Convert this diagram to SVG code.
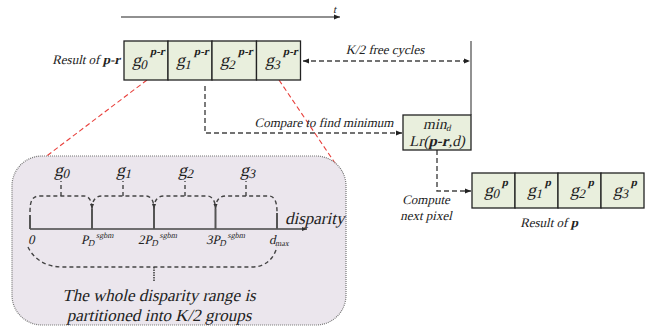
<svg xmlns="http://www.w3.org/2000/svg" width="667" height="327" viewBox="0 0 667 327">
<defs>
<marker id="ah" viewBox="0 0 10 10" refX="10" refY="5" markerWidth="6" markerHeight="6" orient="auto-start-reverse" markerUnits="userSpaceOnUse"><path d="M0,1 L10,5 L0,9 Z" fill="#222"/></marker>
<marker id="ahs" viewBox="0 0 10 10" refX="10" refY="5" markerWidth="5" markerHeight="5" orient="auto" markerUnits="userSpaceOnUse"><path d="M0,1 L10,5 L0,9 Z" fill="#333"/></marker>
</defs>
<style>
text{font-family:"Liberation Serif","Times New Roman",serif;fill:#222}
.cell{fill:#e9efdd;stroke:#222;stroke-width:1.3}
.dash{fill:none;stroke:#444;stroke-width:1.4;stroke-dasharray:5,3}
.bd{fill:none;stroke:#444;stroke-width:1.4;stroke-dasharray:4,3}
.red{fill:none;stroke:#e8403c;stroke-width:1.1;stroke-dasharray:5,3}
.tick{stroke:#555;stroke-width:2}
.g{font-size:18px}
.sub{font-size:13px}
.sup{font-size:11px;font-weight:bold}
.lbl{font-size:13px}
</style>
<rect width="667" height="327" fill="#fff"/>

<g id="time-axis">
<line x1="121" y1="17" x2="340" y2="17" stroke="#222" stroke-width="1.2" marker-end="url(#ah)"/>
<text transform="translate(333,13) skewX(-13)" font-size="11">t</text>
</g>

<g id="connectors">
<line x1="471" y1="41" x2="471" y2="115" stroke="#777" stroke-width="1.6"/>
<line x1="303" y1="61" x2="470" y2="61" class="dash" marker-start="url(#ah)" marker-end="url(#ah)"/>
<path d="M205,86 L205,133 L402,133" class="dash" marker-end="url(#ah)"/>
<path d="M437,150 L437,191 L471,191" class="dash" marker-end="url(#ah)"/>
<line x1="147" y1="80" x2="44" y2="158" class="red"/>
<line x1="279" y1="80" x2="337" y2="166" class="red"/>
</g>

<g id="result-pr">
<text transform="translate(120,64) skewX(-13)" class="lbl" text-anchor="end">Result of <tspan font-weight="bold">p-r</tspan></text>
<rect x="124" y="41" width="44" height="39" class="cell"/>
<rect x="168" y="41" width="44" height="39" class="cell"/>
<rect x="212" y="41" width="44.5" height="39" class="cell"/>
<rect x="256.5" y="41" width="44" height="39" class="cell"/>
<text transform="translate(132,66) skewX(-13)"><tspan class="g">g</tspan><tspan class="sub" dy="3">0</tspan><tspan class="sup" dy="-14">p-r</tspan></text>
<text transform="translate(176,66) skewX(-13)"><tspan class="g">g</tspan><tspan class="sub" dy="3">1</tspan><tspan class="sup" dy="-14">p-r</tspan></text>
<text transform="translate(220,66) skewX(-13)"><tspan class="g">g</tspan><tspan class="sub" dy="3">2</tspan><tspan class="sup" dy="-14">p-r</tspan></text>
<text transform="translate(265,66) skewX(-13)"><tspan class="g">g</tspan><tspan class="sub" dy="3">3</tspan><tspan class="sup" dy="-14">p-r</tspan></text>
</g>

<g id="label-free">
<text transform="translate(385,54) skewX(-13)" class="lbl" text-anchor="middle">K/2 free cycles</text>
</g>
<g id="label-compare">
<text transform="translate(324,127) skewX(-13)" class="lbl" text-anchor="middle">Compare to find minimum</text>
</g>

<g id="min-box">
<rect x="403" y="115" width="68" height="35" class="cell"/>
<text transform="translate(437,129) skewX(-13)" text-anchor="middle" font-size="15">min<tspan font-size="9" dy="2">d</tspan></text>
<text transform="translate(437,146) skewX(-13)" text-anchor="middle" font-size="15">Lr(<tspan font-weight="bold">p-r</tspan>,d)</text>
</g>

<g id="label-next">
<text transform="translate(426,204) skewX(-13)" class="lbl" text-anchor="middle">Compute</text>
<text transform="translate(426,220) skewX(-13)" class="lbl" text-anchor="middle">next pixel</text>
</g>

<g id="result-p">
<rect x="472" y="173" width="43" height="35" class="cell"/>
<rect x="515" y="173" width="43" height="35" class="cell"/>
<rect x="558" y="173" width="43" height="35" class="cell"/>
<rect x="601" y="173" width="43" height="35" class="cell"/>
<text transform="translate(484,196) skewX(-13)"><tspan class="g" font-size="16">g</tspan><tspan class="sub" font-size="12" dy="2">0</tspan><tspan class="sup" dy="-12">p</tspan></text>
<text transform="translate(527,196) skewX(-13)"><tspan class="g" font-size="16">g</tspan><tspan class="sub" font-size="12" dy="2">1</tspan><tspan class="sup" dy="-12">p</tspan></text>
<text transform="translate(570,196) skewX(-13)"><tspan class="g" font-size="16">g</tspan><tspan class="sub" font-size="12" dy="2">2</tspan><tspan class="sup" dy="-12">p</tspan></text>
<text transform="translate(613,196) skewX(-13)"><tspan class="g" font-size="16">g</tspan><tspan class="sub" font-size="12" dy="2">3</tspan><tspan class="sup" dy="-12">p</tspan></text>
<text transform="translate(549,227) skewX(-13)" class="lbl" text-anchor="middle">Result of <tspan font-weight="bold">p</tspan></text>
</g>

<g id="disparity-panel">
<rect x="12" y="156" width="334" height="169" rx="30" ry="30" fill="#ebe6ed" stroke="#777" stroke-width="1.2" stroke-dasharray="1,1"/>
<line x1="30" y1="229" x2="307" y2="229" stroke="#444" stroke-width="1.3" marker-end="url(#ahs)"/>
<line x1="30" y1="215" x2="30" y2="229" class="tick"/>
<line x1="92" y1="209" x2="92" y2="229" class="tick"/>
<line x1="154" y1="209" x2="154" y2="229" class="tick"/>
<line x1="215.5" y1="209" x2="215.5" y2="229" class="tick"/>
<line x1="277" y1="213" x2="277" y2="229" class="tick"/>
<path d="M30,212 C30,201 32,196 40,196 L84,196 C89,196 92,201 92,209" class="bd" marker-end="url(#ahs)"/>
<path d="M92,209 C92,201 95,196 102,196 L146,196 C151,196 154,201 154,209" class="bd" marker-end="url(#ahs)"/>
<path d="M154,209 C154,201 157,196 164,196 L207,196 C212,196 215.5,201 215.5,209" class="bd" marker-end="url(#ahs)"/>
<path d="M215.5,209 C215.5,201 219,196 226,196 L269,196 C274,196 277,201 277,212" class="bd"/>
<line x1="61" y1="196" x2="61" y2="181" class="bd"/>
<line x1="123" y1="196" x2="123" y2="181" class="bd"/>
<line x1="185" y1="196" x2="185" y2="181" class="bd"/>
<line x1="246" y1="196" x2="246" y2="181" class="bd"/>
<text transform="translate(54,176) skewX(-13)"><tspan class="g">g</tspan><tspan class="sub" dy="2">0</tspan></text>
<text transform="translate(116,176) skewX(-13)"><tspan class="g">g</tspan><tspan class="sub" dy="2">1</tspan></text>
<text transform="translate(178,176) skewX(-13)"><tspan class="g">g</tspan><tspan class="sub" dy="2">2</tspan></text>
<text transform="translate(240,176) skewX(-13)"><tspan class="g">g</tspan><tspan class="sub" dy="2">3</tspan></text>
<text transform="translate(285,224) skewX(-13)" font-size="17">disparity</text>
<text transform="translate(28,244) skewX(-13)" font-size="13">0</text>
<text transform="translate(81,244) skewX(-13)" font-size="13">P<tspan font-size="9" dy="2">D</tspan><tspan font-size="8" dy="-8">sgbm</tspan></text>
<text transform="translate(138,244) skewX(-13)" font-size="13">2P<tspan font-size="9" dy="2">D</tspan><tspan font-size="8" dy="-8">sgbm</tspan></text>
<text transform="translate(206,244) skewX(-13)" font-size="13">3P<tspan font-size="9" dy="2">D</tspan><tspan font-size="8" dy="-8">sgbm</tspan></text>
<text transform="translate(269,244) skewX(-13)" font-size="13">d<tspan font-size="8" dy="2">max</tspan></text>
<path d="M28,247 C33,258 45,267 62,267 L252,267 C266,267 274,258 277,247" class="bd"/>
<line x1="154" y1="267" x2="154" y2="282" stroke="#444" stroke-width="1.6" stroke-dasharray="1.5,1"/>
<text transform="translate(159,301) skewX(-13)" font-size="17" text-anchor="middle">The whole disparity range is</text>
<text transform="translate(159,321) skewX(-13)" font-size="17" text-anchor="middle">partitioned into K/2 groups</text>
</g>
</svg>
